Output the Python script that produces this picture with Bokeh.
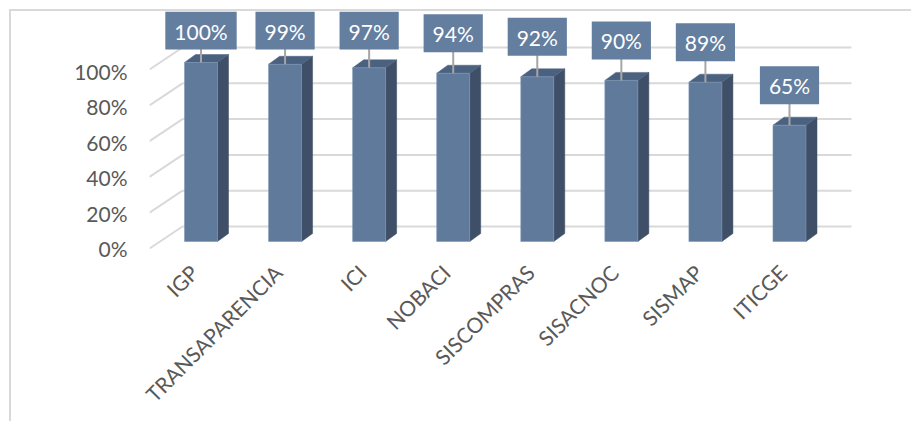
import math
from bokeh.plotting import figure
from bokeh.models import Range1d, LinearAxis, FixedTicker, ColumnDataSource
from bokeh.core.properties import value
from bokeh.embed import file_html
from bokeh.resources import INLINE

# ---------------- data ----------------
categories = ["IGP", "TRANSAPARENCIA", "ICI", "NOBACI", "SISCOMPRAS", "SISACNOC", "SISMAP", "ITICGE"]
values = [100, 99, 97, 94, 92, 90, 89, 65]
value_labels = ["100%", "99%", "97%", "94%", "92%", "90%", "89%", "65%"]
y_ticks = [0, 20, 40, 60, 80, 100]
y_tick_labels = ["0%", "20%", "40%", "60%", "80%", "100%"]

# ---------------- geometry (pixels) ----------------
ORG = 11                      # canvas origin on the page (margin + border)
FIG_W, FIG_H = 902, 412
MB_L = 149 - ORG
MB_T = 0
MB_B = ORG + FIG_H - 262
MB_R = ORG + FIG_W - 905
FRAME_W = FIG_W - MB_L - MB_R
FRAME_H = FIG_H - MB_T - MB_B
XPX = 84.07          # px per category step
YPX = 1.79           # px per percent (bar plane)
X0_PX = 200.5 - 149  # first bar centre from frame left
Y0_PX = 262 - 241    # bar baseline above frame bottom

def dx(px):
    return px / XPX

def dy(px):
    return px / YPX

x_start = -X0_PX / XPX
x_end = x_start + FRAME_W / XPX
y_start = -Y0_PX / YPX
y_end = y_start + FRAME_H / YPX

FONT = "Lato"
FRONT = "#5f7a9b"
TOP = "#4b6180"
SIDE = "#3e4f67"
GRID = "#d9d9d9"

p = figure(width=FIG_W, height=FIG_H, output_backend="svg", toolbar_location=None,
           x_range=Range1d(x_start, x_end), y_range=Range1d(y_start, y_end),
           x_axis_location=None, y_axis_location=None,
           min_border_left=MB_L, min_border_right=MB_R,
           min_border_top=MB_T, min_border_bottom=MB_B,
           background_fill_color="white", border_fill_color="white")
p.outline_line_color = None
p.grid.visible = False
p.margin = (9, 0, 0, 9)
p.styles = {"border-top": "2px solid #d9d9d9", "border-left": "2px solid #d9d9d9"}

n = len(categories)
xs = list(range(n))

# ---------------- walls / gridlines ----------------
back_left = x_start + dx(33)
grid_right = (n - 1) + dx(62)
back_y = [t + dy(15) for t in y_ticks]
front_y = [t - dy(7) for t in y_ticks]
p.segment(x0=[back_left] * len(y_ticks), y0=back_y,
          x1=[grid_right] * len(y_ticks), y1=back_y,
          line_color=GRID, line_width=2)
p.segment(x0=[x_start] * len(y_ticks), y0=front_y,
          x1=[back_left] * len(y_ticks), y1=back_y,
          line_color=GRID, line_width=2)

# ---------------- 3D bars ----------------
HW = dx(16.5)
DDX, DDY = dx(11), dy(8)
side_xs, side_ys, top_xs, top_ys = [], [], [], []
for x, v in zip(xs, values):
    side_xs.append([x + HW, x + HW + DDX, x + HW + DDX, x + HW])
    side_ys.append([0, DDY, v + DDY, v])
    top_xs.append([x - HW, x + HW, x + HW + DDX, x - HW + DDX])
    top_ys.append([v, v, v + DDY, v + DDY])
p.patches(side_xs, side_ys, fill_color=SIDE, line_color=SIDE, line_width=0.5)
p.patches(top_xs, top_ys, fill_color=TOP, line_color=TOP, line_width=0.5)
p.vbar(x=xs, top=values, bottom=0, width=2 * HW, fill_color=FRONT,
       line_color="#7f97b5", line_width=0.6)

# ---------------- value labels ----------------
label_y = [min(v + dy(40), dy(211)) for v in values]
p.segment(x0=xs, y0=[ly - dy(17) for ly in label_y], x1=xs, y1=values,
          line_color="#a6a6a6", line_width=2)
src = ColumnDataSource(dict(x=xs, y=label_y, t=value_labels))
p.text(x="x", y="y", text="t", source=src, text_align="center", text_baseline="middle",
       text_font=value(FONT), text_font_size="21px", text_color="white",
       background_fill_color="#637e9f", padding=[9, 9, 7, 6])

# ---------------- axes ----------------
p.extra_y_ranges = {"front": Range1d(-(262 - 248) / 1.77, -(262 - 248) / 1.77 + FRAME_H / 1.77)}
yax = LinearAxis(y_range_name="front", ticker=FixedTicker(ticks=y_ticks),
                 major_label_overrides={t: l for t, l in zip(y_ticks, y_tick_labels)})
yax.axis_line_color = None
yax.major_tick_line_color = None
yax.minor_tick_line_color = None
yax.major_tick_out = 0
yax.major_tick_in = 0
yax.major_label_standoff = 22
yax.major_label_text_font = FONT
yax.major_label_text_font_size = "21px"
yax.major_label_text_color = "#595959"
p.add_layout(yax, "left")

p.extra_x_ranges = {"labels": Range1d(x_start + dx(7), x_end + dx(7))}
xax = LinearAxis(x_range_name="labels", ticker=FixedTicker(ticks=xs),
                 major_label_overrides={i: c for i, c in zip(xs, categories)})
xax.major_label_orientation = math.pi / 4
xax.axis_line_color = None
xax.major_tick_line_color = None
xax.minor_tick_line_color = None
xax.major_tick_out = 0
xax.major_tick_in = 0
xax.major_label_standoff = 6
xax.major_label_text_font = FONT
xax.major_label_text_font_size = "21px"
xax.major_label_text_color = "#595959"
p.add_layout(xax, "below")

open("out.html", "w").write(file_html(p, INLINE))
